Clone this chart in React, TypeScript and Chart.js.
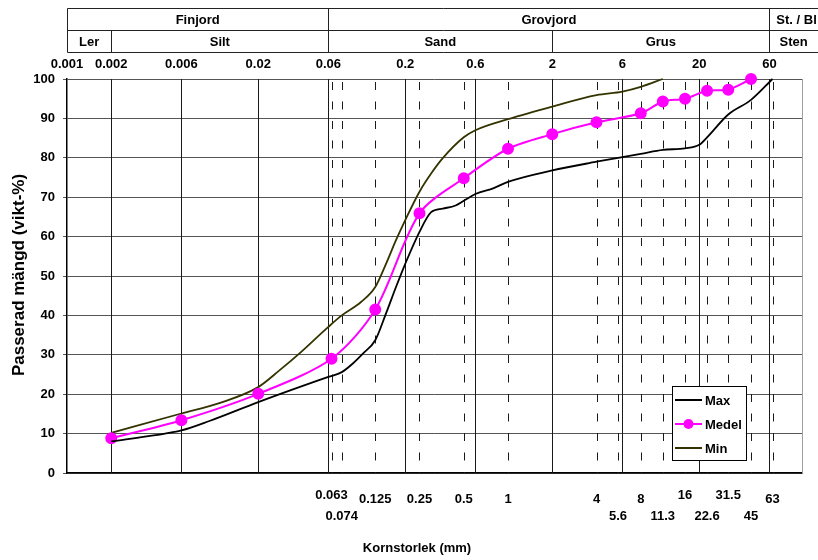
import React, { useEffect, useRef } from 'react';
import { Chart, registerables } from 'chart.js';

Chart.register(...registerables);

const FONT = '"Liberation Sans", Arial, Helvetica, sans-serif';

// Grain size distribution: grain size (mm) vs passing percentage
const maxSizes = [0.002, 0.004, 0.006, 0.0093, 0.02, 0.038, 0.06, 0.074, 0.088, 0.103, 0.125, 0.148, 0.173, 0.2, 0.25, 0.3, 0.36, 0.44, 0.5, 0.6, 0.8, 1, 2, 4, 6, 8, 11.3, 16, 20, 22.6, 31.5, 45, 63];
const maxPassing = [8.0, 9.6, 10.8, 13.2, 18.0, 21.8, 24.4, 25.6, 27.8, 30.3, 33.7, 40.5, 47.2, 53.1, 61.2, 66.2, 67.1, 67.9, 69.1, 70.8, 72.3, 73.9, 76.8, 79.0, 80.2, 81.0, 82.0, 82.4, 83.3, 85.2, 91.0, 94.7, 100];

const medelSizes = [0.002, 0.006, 0.02, 0.063, 0.125, 0.25, 0.5, 1, 2, 4, 8, 11.3, 16, 22.6, 31.5, 45];
const medelPassing = [8.8, 13.4, 20.1, 29.0, 41.5, 65.9, 74.8, 82.3, 86.0, 89.0, 91.3, 94.3, 95.0, 97.0, 97.3, 100];

const minSizes = [0.002, 0.006, 0.011, 0.02, 0.028, 0.038, 0.06, 0.074, 0.1, 0.125, 0.148, 0.173, 0.2, 0.25, 0.3, 0.36, 0.5, 0.6, 1, 2, 4, 6, 8, 11.3];
const minPassing = [10.2, 15.1, 17.8, 21.8, 26.1, 30.3, 37.1, 40.0, 43.4, 47.2, 53.1, 59.1, 64.2, 71.4, 76.0, 79.9, 85.2, 87.0, 89.8, 93.0, 95.9, 96.8, 98.0, 100];

// Fraction boundaries (solid lines, labelled above the plot)
const boundarySizes = [0.002, 0.006, 0.02, 0.06, 0.2, 0.6, 2, 6, 20, 60];
const topTickValues = [0.001, 0.002, 0.006, 0.02, 0.06, 0.2, 0.6, 2, 6, 20, 60];
const topTickLabels = ['0.001', '0.002', '0.006', '0.02', '0.06', '0.2', '0.6', '2', '6', '20', '60'];

// Sieve sizes (dashed lines, labelled below the plot, staggered in rows)
const sieveSizes = [0.063, 0.074, 0.125, 0.25, 0.5, 1, 4, 5.6, 8, 11.3, 16, 22.6, 31.5, 45, 63];
const sieveLabels = ['0.063', '0.074', '0.125', '0.25', '0.5', '1', '4', '5.6', '8', '11.3', '16', '22.6', '31.5', '45', '63'];
const sieveLabelRows = [0, 2, 1, 1, 1, 1, 1, 2, 1, 2, 0, 2, 0, 2, 1];

// Soil classification header
const groupNames = ['Finjord', 'Grovjord', 'St. / Bl'];
const groupFrom = [0.001, 0.06, 60];
const groupTo = [0.06, 60, 128];
const fractionNames = ['Ler', 'Silt', 'Sand', 'Grus', 'Sten'];
const fractionFrom = [0.001, 0.002, 0.06, 2, 60];
const fractionTo = [0.002, 0.06, 2, 60, 128];

const xTitle = 'Kornstorlek (mm)';
const yTitle = 'Passerad mängd (vikt-%)';

const MAGENTA = '#ff00ff';
const OLIVE = '#333300';

const toPoints = (xs: number[], ys: number[]) => xs.map((x, i) => ({ x, y: ys[i] }));

const sieveGridPlugin = {
  id: 'sieveGrid',
  beforeDatasetsDraw(chart: any) {
    const { ctx, chartArea: a, scales } = chart;
    const x = scales.x;
    ctx.save();
    ctx.lineWidth = 1;
    ctx.strokeStyle = '#1a1a1a';
    boundarySizes.forEach((v) => {
      const px = Math.round(x.getPixelForValue(v)) + 0.5;
      ctx.beginPath();
      ctx.moveTo(px, a.top);
      ctx.lineTo(px, a.bottom);
      ctx.stroke();
    });
    ctx.setLineDash([8, 11.5]);
    ctx.lineDashOffset = -3;
    sieveSizes.forEach((v) => {
      const px = Math.round(x.getPixelForValue(v)) + 0.5;
      ctx.beginPath();
      ctx.moveTo(px, a.top);
      ctx.lineTo(px, a.bottom);
      ctx.stroke();
    });
    ctx.setLineDash([]);
    // right frame
    ctx.strokeStyle = '#a0a0a0';
    ctx.beginPath();
    ctx.moveTo(a.right + 0.5, a.top);
    ctx.lineTo(a.right + 0.5, a.bottom);
    ctx.stroke();
    ctx.restore();
  },
};

const annotationsPlugin = {
  id: 'gradingAnnotations',
  afterDraw(chart: any) {
    const { ctx, chartArea: a, scales } = chart;
    const x = scales.x;
    const px = (v: number) => x.getPixelForValue(v);
    ctx.save();
    ctx.font = `bold 13px ${FONT}`;
    ctx.fillStyle = '#000';

    // header table
    const r0 = 8.5, r1 = 30.5, r2 = 52.5;
    ctx.strokeStyle = '#222';
    ctx.lineWidth = 1;
    const hLine = (y: number) => {
      ctx.beginPath();
      ctx.moveTo(Math.round(a.left) + 0.5, y);
      ctx.lineTo(px(128) + 2, y);
      ctx.stroke();
    };
    hLine(r0); hLine(r1); hLine(r2);
    const vLine = (v: number, y0: number, y1: number) => {
      const p = Math.round(px(v)) + 0.5;
      ctx.beginPath();
      ctx.moveTo(p, y0);
      ctx.lineTo(p, y1);
      ctx.stroke();
    };
    groupFrom.forEach((v) => vLine(v, r0, r2));
    fractionFrom.forEach((v) => { if (groupFrom.indexOf(v) < 0) vLine(v, r1, r2); });
    ctx.textAlign = 'center';
    ctx.textBaseline = 'middle';
    groupNames.forEach((n, i) => {
      ctx.fillText(n, (px(groupFrom[i]) + px(groupTo[i])) / 2 + (i === 2 ? 3 : 0), 20);
    });
    fractionNames.forEach((n, i) => {
      ctx.fillText(n, (px(fractionFrom[i]) + px(fractionTo[i])) / 2, 42);
    });

    // top tick labels
    topTickValues.forEach((v, i) => ctx.fillText(topTickLabels[i], px(v), 64));

    // bottom sieve labels
    const rowY = [495, 499, 516];
    sieveSizes.forEach((v, i) => ctx.fillText(sieveLabels[i], px(v), rowY[sieveLabelRows[i]]));

    // axis titles
    ctx.fillText(xTitle, 417, 548);
    ctx.save();
    ctx.font = `bold 17px ${FONT}`;
    ctx.translate(19, 275);
    ctx.rotate(-Math.PI / 2);
    ctx.fillText(yTitle, 0, 0);
    ctx.restore();

    // legend
    const lx = 672.5, ly = 386.5, lw = 74, lh = 74;
    ctx.fillStyle = '#fff';
    ctx.fillRect(lx, ly, lw, lh);
    ctx.strokeStyle = '#000';
    ctx.lineWidth = 1;
    ctx.strokeRect(lx, ly, lw, lh);
    const rowsY = [400, 424, 448];
    chart.data.datasets.forEach((ds: any, i: number) => {
      const y = rowsY[i];
      ctx.strokeStyle = ds.borderColor;
      ctx.lineWidth = 2;
      ctx.beginPath();
      ctx.moveTo(675, y);
      ctx.lineTo(702, y);
      ctx.stroke();
      if (ds.pointRadius > 0) {
        ctx.fillStyle = ds.pointBackgroundColor;
        ctx.beginPath();
        ctx.arc(688.5, y, ds.pointRadius, 0, Math.PI * 2);
        ctx.fill();
      }
      ctx.fillStyle = '#000';
      ctx.textAlign = 'left';
      ctx.fillText(ds.label, 705, y + 1);
    });
    ctx.restore();
  },
};

export default function App() {
  const canvasRef = useRef<HTMLCanvasElement>(null);

  useEffect(() => {
    const canvas = canvasRef.current;
    if (!canvas) return;
    Chart.defaults.font.family = FONT;
    const chart = new Chart(canvas, {
      type: 'line',
      data: {
        datasets: [
          {
            label: 'Max',
            data: toPoints(maxSizes, maxPassing),
            borderColor: '#000000',
            backgroundColor: '#000000',
            borderWidth: 1.8,
            pointRadius: 0,
            cubicInterpolationMode: 'monotone',
            clip: false as any,
          },
          {
            label: 'Medel',
            data: toPoints(medelSizes, medelPassing),
            borderColor: MAGENTA,
            backgroundColor: MAGENTA,
            pointBackgroundColor: MAGENTA,
            pointBorderColor: MAGENTA,
            borderWidth: 2,
            pointRadius: 5,
            tension: 0.3,
            clip: false as any,
          },
          {
            label: 'Min',
            data: toPoints(minSizes, minPassing),
            borderColor: OLIVE,
            backgroundColor: OLIVE,
            borderWidth: 1.8,
            pointRadius: 0,
            cubicInterpolationMode: 'monotone',
            clip: false as any,
          },
        ],
      },
      options: {
        responsive: false,
        devicePixelRatio: 1,
        animation: false,
        layout: { padding: { top: 79, left: 0, right: 16, bottom: 0 } },
        plugins: {
          legend: { display: false },
          tooltip: { enabled: false },
        },
        scales: {
          x: {
            type: 'logarithmic',
            min: 0.001,
            max: 100,
            ticks: { display: false },
            grid: { display: false },
            border: { display: true, color: '#000', width: 1.5 },
            afterFit(scale: any) { scale.height = 87; },
          },
          y: {
            type: 'linear',
            min: 0,
            max: 100,
            ticks: {
              stepSize: 10,
              color: '#000',
              padding: 8,
              font: { family: FONT, size: 13, weight: 'bold' },
            },
            grid: { color: '#555', lineWidth: 1, tickLength: 4, drawTicks: true },
            border: { display: true, color: '#000', width: 1.5 },
            afterFit(scale: any) { scale.width = 67; },
          },
        },
      },
      plugins: [sieveGridPlugin, annotationsPlugin],
    } as any);
    return () => chart.destroy();
  }, []);

  return (
    <div style={{ position: 'fixed', left: 0, top: 0, width: 818, height: 560, background: '#fff' }}>
      <canvas ref={canvasRef} width={818} height={560} style={{ display: 'block' }} />
    </div>
  );
}
